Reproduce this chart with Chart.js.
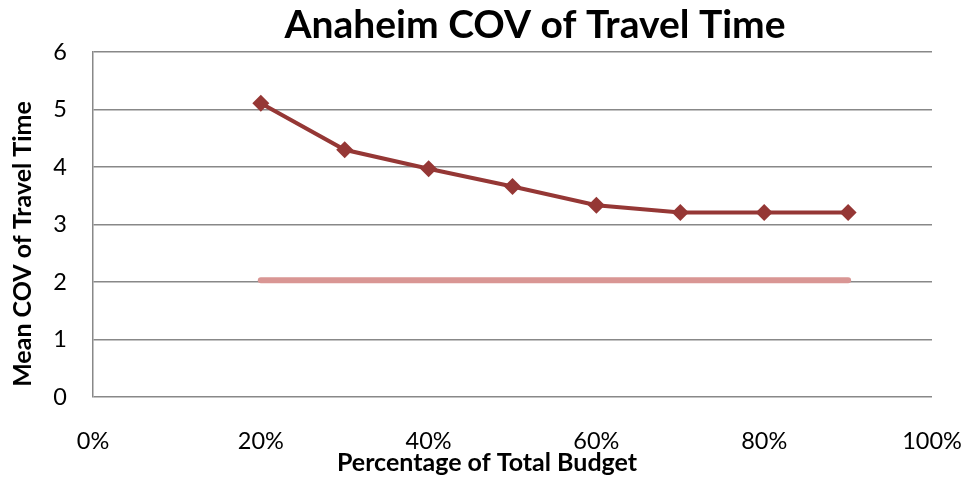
<!DOCTYPE html>
<html>
<head>
<meta charset="utf-8">
<script src="https://cdn.jsdelivr.net/npm/chart.js@4"></script>
<style>
  html, body { margin: 0; padding: 0; background: #fff; }
  #wrap { width: 964px; height: 489px; }
</style>
</head>
<body>
<div id="wrap"><canvas id="myChart" width="964" height="489"></canvas></div>
<script>
// data
const budget = [0.2, 0.3, 0.4, 0.5, 0.6, 0.7, 0.8, 0.9];
const meanCov = [5.11, 4.30, 3.97, 3.66, 3.335, 3.21, 3.21, 3.21];
const baseline = [2.03, 2.03, 2.03, 2.03, 2.03, 2.03, 2.03, 2.03];
const yTicks = [0, 1, 2, 3, 4, 5, 6];
const xTicks = [0, 0.2, 0.4, 0.6, 0.8, 1];

const titleText = 'Anaheim COV of Travel Time';
const xTitle = 'Percentage of Total Budget';
const yTitle = 'Mean COV of Travel Time';

const FONT = 'Lato';

// chart and axis titles, placed like the original
const titles = {
    id: 'titles',
    afterDraw(chart) {
        const ctx = chart.ctx;
        ctx.save();
        ctx.fillStyle = '#000';
        ctx.textAlign = 'center';
        ctx.textBaseline = 'middle';
        ctx.font = 'bold 39px ' + FONT;
        ctx.fillText(titleText, 535, 25);
        ctx.font = 'bold 25px ' + FONT;
        ctx.fillText(xTitle, 487, 463);
        ctx.translate(23, 244);
        ctx.rotate(-Math.PI / 2);
        ctx.fillText(yTitle, 0, 0);
        ctx.restore();
    }
};

const ctx = document.getElementById('myChart').getContext('2d');

new Chart(ctx, {
    type: 'line',
    data: {
        datasets: [
            {
                label: 'Baseline',
                data: budget.map((b, i) => ({ x: b, y: baseline[i] })),
                borderColor: '#d99694',
                borderWidth: 6,
                borderCapStyle: 'round',
                pointRadius: 0
            },
            {
                label: 'Mean COV',
                data: budget.map((b, i) => ({ x: b, y: meanCov[i] })),
                borderColor: '#953735',
                backgroundColor: '#953735',
                borderWidth: 4,
                pointStyle: 'rectRot',
                pointRadius: 8.5,
                pointBorderWidth: 0
            }
        ]
    },
    options: {
        responsive: false,
        animation: false,
        layout: {
            padding: { left: 0, right: 32, top: 52, bottom: 0 }
        },
        plugins: {
            legend: { display: false },
            tooltip: { enabled: false }
        },
        scales: {
            x: {
                type: 'linear',
                min: 0,
                max: 1,
                afterBuildTicks: s => { s.ticks = xTicks.map(v => ({ value: v })); },
                afterFit: s => {
                    s.height = 92;
                    // labels may hang over the edges, like the original
                    s.paddingLeft = 0;
                    s.paddingRight = 0;
                },
                grid: { display: false, drawTicks: false },
                border: { display: false },
                ticks: {
                    padding: 30,
                    color: '#000',
                    font: { family: FONT, size: 23.5 },
                    callback: v => Math.round(v * 100) + '%'
                }
            },
            y: {
                min: 0,
                max: 6,
                afterBuildTicks: s => { s.ticks = yTicks.map(v => ({ value: v })); },
                afterFit: s => { s.width = 93; },
                grid: { color: '#888888', lineWidth: 1.5, drawTicks: false },
                border: { display: true, color: '#888888', width: 1.5 },
                ticks: {
                    padding: 26,
                    color: '#000',
                    font: { family: FONT, size: 23.5 }
                }
            }
        }
    },
    plugins: [titles]
});
</script>
</body>
</html>
